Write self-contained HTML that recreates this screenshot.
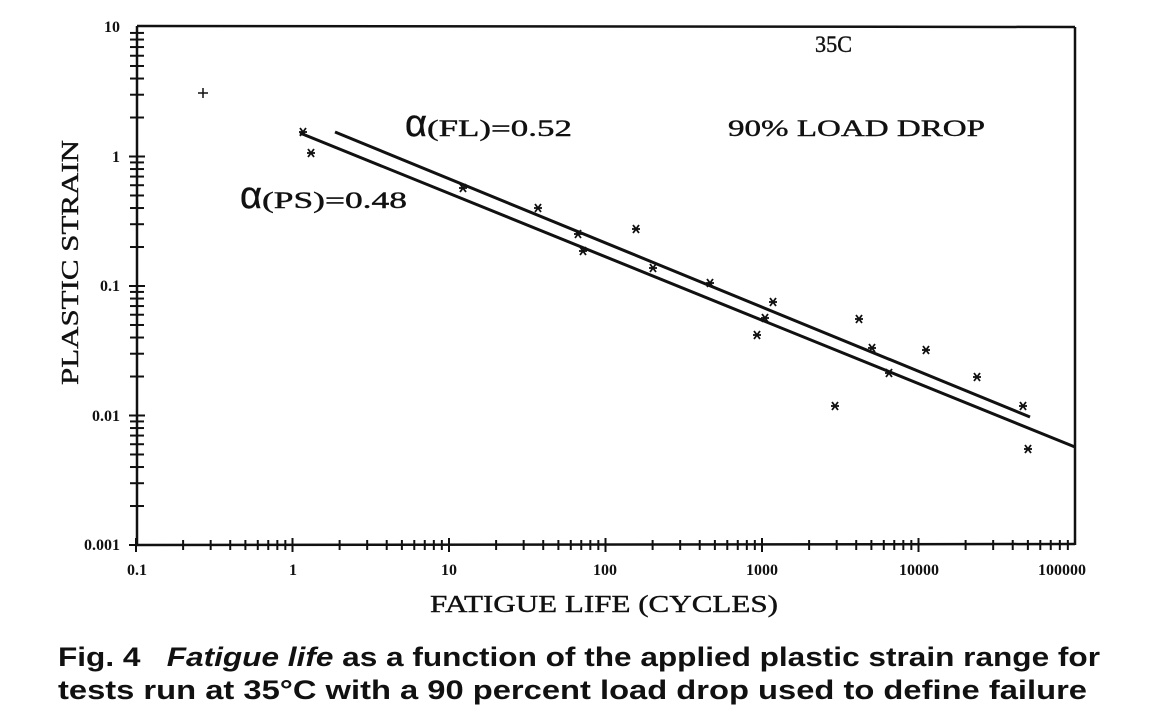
<!DOCTYPE html>
<html><head><meta charset="utf-8"><style>
html,body{margin:0;padding:0;background:#fff;width:1152px;height:713px;overflow:hidden}
svg{display:block}
.t{font-family:"Liberation Serif",serif;font-weight:bold;fill:#111}
.n{font-family:"Liberation Serif",serif;fill:#111;stroke:#111;stroke-width:0.4}
.c{font-family:"Liberation Sans",sans-serif;font-weight:bold;font-size:27px;fill:#111}
</style></head><body>
<svg id="s" width="1152" height="713" xmlns="http://www.w3.org/2000/svg">
<g stroke="#111" stroke-width="2.5" fill="none">
<line x1="137" y1="26" x2="1075" y2="27"/>
<line x1="137" y1="26" x2="137" y2="545"/>
<line x1="136" y1="545" x2="1075" y2="544"/>
<line x1="1075" y1="27" x2="1075" y2="545"/>
</g>
<g id="ticks" stroke="#111" stroke-width="2"></g>
<g class="t" font-size="16" text-anchor="end">
<text x="120" y="32">10</text><text x="120" y="162">1</text><text x="120" y="291">0.1</text><text x="120" y="421">0.01</text><text x="120" y="550">0.001</text>
</g>
<g class="t" font-size="16" text-anchor="middle">
<text x="137" y="575">0.1</text><text x="293" y="575">1</text><text x="449" y="575">10</text><text x="605" y="575">100</text><text x="762" y="575">1000</text><text x="919" y="575">10000</text><text x="1062" y="575">100000</text>
</g>
<text class="n" font-size="24" x="430" y="612" textLength="348" lengthAdjust="spacingAndGlyphs">FATIGUE LIFE (CYCLES)</text>
<text class="n" font-size="24" transform="translate(78,385) rotate(-90)" textLength="245" lengthAdjust="spacingAndGlyphs">PLASTIC STRAIN</text>
<g class="n" font-size="23">
<text x="815" y="52" textLength="37" lengthAdjust="spacingAndGlyphs">35C</text>
<text x="728" y="136" textLength="257" lengthAdjust="spacingAndGlyphs">90% LOAD DROP</text>
<text x="405" y="136"><tspan font-size="38" font-family="Liberation Sans,sans-serif">α</tspan><tspan textLength="145" lengthAdjust="spacingAndGlyphs">(FL)=0.52</tspan></text>
<text x="240" y="208"><tspan font-size="38" font-family="Liberation Sans,sans-serif">α</tspan><tspan textLength="145" lengthAdjust="spacingAndGlyphs">(PS)=0.48</tspan></text>
</g>
<g stroke="#111" stroke-width="3" fill="none">
<line x1="335" y1="132" x2="1030" y2="417"/>
<line x1="300" y1="133" x2="1075" y2="447"/>
</g>
<g stroke="#111" stroke-width="1.5"><line x1="198" y1="93" x2="208" y2="93"/><line x1="203" y1="88" x2="203" y2="98"/></g>
<g id="pts" stroke="#111" stroke-width="1.8"></g>
<text class="c" x="58" y="666" textLength="1042" lengthAdjust="spacingAndGlyphs">Fig. 4 &#160; <tspan font-style="italic">Fatigue life</tspan> as a function of the applied plastic strain range for</text>
<text class="c" x="58" y="699" textLength="1029" lengthAdjust="spacingAndGlyphs">tests run at 35°C with a 90 percent load drop used to define failure</text>
</svg>
<script>
var ns="http://www.w3.org/2000/svg",T=document.getElementById("ticks"),P=document.getElementById("pts");
function L(g,a,b,c,d){var l=document.createElementNS(ns,"line");l.setAttribute("x1",a);l.setAttribute("y1",b);l.setAttribute("x2",c);l.setAttribute("y2",d);g.appendChild(l);}
for(var d=0;d<6;d++)for(var m=1;m<10;m++){var x=136+156.5*(d+Math.log10(m));var h=m==1?7:5;L(T,x,545-h,x,545+h);}
for(var d=0;d<4;d++)for(var m=1;m<10;m++){var y=545-129.5*(d+Math.log10(m));var h=m==1?8:7;L(T,137-h,y,137+h,y);}
var p=[[303,132],[311,153],[463,188],[538,208],[578,234],[583,251],[636,229],[653,268],[710,283],[757,335],[765,318],[773,302],[835,406],[859,319],[872,348],[889,373],[926,350],[977,377],[1023,406],[1028,449]];
p.forEach(function(q){var x=q[0],y=q[1];L(P,x-4,y,x+4,y);L(P,x-3,y-4,x+3,y+4);L(P,x+3,y-4,x-3,y+4);});
</script>
</body></html>
